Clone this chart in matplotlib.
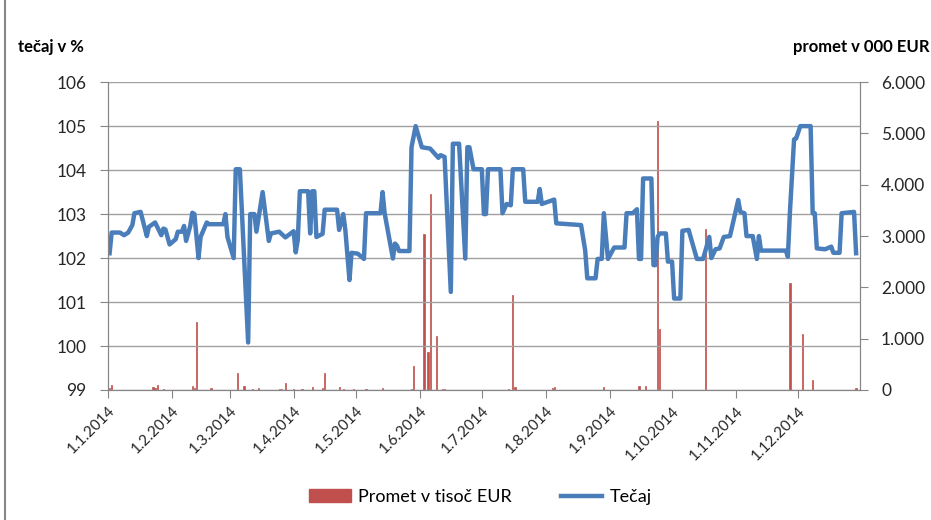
import numpy as np
import pandas as pd
import matplotlib
matplotlib.use('Agg')
import matplotlib.pyplot as plt
import matplotlib.dates as mdates
from matplotlib.ticker import FuncFormatter
from matplotlib.lines import Line2D
from matplotlib.patches import Patch

plt.rcParams['font.family'] = ['Lato', 'DejaVu Sans']

# Tečaj (v %) po dnevih
tecaj_dni = ['01-02', '01-03', '01-07', '01-09', '01-11', '01-13', '01-14', '01-17', '01-20', '01-21',
             '01-24', '01-27', '01-28', '01-29', '01-31', '02-03', '02-04', '02-06', '02-07', '02-08',
             '02-10', '02-11', '02-12', '02-14', '02-15', '02-18', '02-19', '02-26', '02-27', '02-28',
             '03-03', '03-04', '03-06', '03-10', '03-11', '03-13', '03-14', '03-17', '03-20', '03-21',
             '03-25', '03-28', '04-01', '04-02', '04-03', '04-04', '04-08', '04-09', '04-10', '04-11',
             '04-12', '04-15', '04-16', '04-22', '04-23', '04-25', '04-26', '04-28', '04-29', '05-02',
             '05-05', '05-06', '05-13', '05-14', '05-15', '05-19', '05-20', '05-21', '05-22', '05-27',
             '05-28', '05-30', '06-02', '06-06', '06-10', '06-11', '06-13', '06-16', '06-17', '06-20',
             '06-23', '06-24', '06-25', '06-27', '07-01', '07-02', '07-03', '07-04', '07-10', '07-11',
             '07-13', '07-15', '07-16', '07-21', '07-22', '07-28', '07-29', '07-30', '08-05', '08-06',
             '08-18', '08-20', '08-21', '08-25', '08-26', '08-28', '08-29', '08-31', '09-03', '09-08',
             '09-09', '09-12', '09-14', '09-15', '09-16', '09-17', '09-21', '09-22', '09-23', '09-24',
             '09-25', '09-28', '09-29', '10-01', '10-02', '10-05', '10-06', '10-09', '10-13', '10-16',
             '10-19', '10-20', '10-22', '10-24', '10-26', '10-29', '11-02', '11-03', '11-05', '11-06',
             '11-09', '11-11', '11-12', '11-13', '11-25', '11-26', '11-27', '11-29', '11-30', '12-02',
             '12-07', '12-08', '12-09', '12-10', '12-14', '12-17', '12-18', '12-21', '12-22', '12-28',
             '12-29']
tecaj = [102.11, 102.58, 102.58, 102.52, 102.58, 102.75, 103.02, 103.05, 102.50, 102.71,
         102.81, 102.52, 102.67, 102.65, 102.31, 102.43, 102.60, 102.60, 102.73, 102.39,
         102.73, 103.03, 103.00, 102.00, 102.48, 102.81, 102.77, 102.77, 103.00, 102.48,
         102.00, 104.02, 104.02, 100.08, 103.00, 103.00, 102.60, 103.50, 102.39, 102.56,
         102.60, 102.47, 102.61, 102.13, 102.41, 103.52, 103.52, 102.56, 103.52, 103.52,
         102.48, 102.55, 103.10, 103.10, 102.64, 103.00, 102.64, 101.50, 102.12, 102.10,
         101.98, 103.02, 103.02, 103.50, 103.02, 101.99, 102.33, 102.28, 102.16, 102.16,
         104.52, 105.00, 104.52, 104.49, 104.28, 104.34, 104.30, 101.23, 104.60, 104.60,
         101.99, 104.52, 104.52, 104.02, 104.02, 103.00, 103.00, 104.02, 104.02, 103.02,
         103.23, 103.20, 104.02, 104.02, 103.28, 103.28, 103.57, 103.23, 103.33, 102.79,
         102.75, 102.17, 101.54, 101.54, 101.98, 101.98, 103.02, 101.98, 102.24, 102.24,
         103.02, 103.02, 103.11, 101.98, 101.98, 103.81, 103.81, 101.84, 101.84, 102.48,
         102.56, 102.56, 101.92, 101.92, 101.08, 101.08, 102.62, 102.64, 101.98, 101.98,
         102.48, 102.00, 102.20, 102.22, 102.48, 102.50, 103.32, 103.05, 103.02, 102.50,
         102.50, 101.98, 102.50, 102.17, 102.17, 102.03, 103.05, 104.70, 104.72, 105.00,
         105.00, 103.02, 103.02, 102.22, 102.20, 102.26, 102.12, 102.12, 103.02, 103.05,
         102.11]

# Promet v tisoč EUR po dnevih
promet_dni = ['01-02', '01-03', '01-23', '01-24', '01-25', '01-28', '02-11', '02-12', '02-13', '02-20',
              '03-05', '03-08', '03-12', '03-15', '03-25', '03-26', '03-28', '04-01', '04-05', '04-10',
              '04-15', '04-16', '04-23', '04-25', '04-30', '05-06', '05-14', '05-28', '05-29', '06-03',
              '06-05', '06-06', '06-09', '06-12', '06-13', '07-14', '07-16', '07-17', '08-04', '08-05',
              '08-29', '09-15', '09-18', '09-24', '09-25', '10-17', '11-27', '12-03', '12-08', '12-29']
promet = [40, 95, 50, 40, 100, 20, 75, 30, 1320, 40,
          330, 80, 20, 35, 20, 25, 140, 20, 20, 50,
          40, 330, 55, 20, 20, 20, 45, 20, 470, 3040,
          734, 3812, 1050, 25, 15, 20, 1850, 60, 30, 60,
          50, 70, 70, 5240, 1180, 3130, 2090, 1100, 195, 40]

x_tecaj = pd.to_datetime(['2014-' + d for d in tecaj_dni])
x_promet = pd.to_datetime(['2014-' + d for d in promet_dni])
meseci = pd.date_range('2014-01-01', '2014-12-01', freq='MS')

rdeca = '#C0504D'
modra = '#4A7EBB'
siva = '#868686'
fig = plt.figure(figsize=(9.31, 5.2), dpi=100)
ax = fig.add_axes([0.1155, 0.25, 0.8085, 0.592])
ax2 = ax.twinx()
ax.set_zorder(ax2.get_zorder() + 1)
ax.patch.set_visible(False)

ax2.bar(x_promet, promet, width=0.6, color=rdeca, edgecolor=rdeca, linewidth=0.5)
ax.plot(x_tecaj, tecaj, color=modra, lw=3.2, solid_joinstyle='round')

ax.set_xlim(pd.Timestamp('2014-01-01'), pd.Timestamp('2014-12-31'))
ax.set_ylim(99, 106)
ax2.set_ylim(0, 6000)
ax.set_yticks(range(99, 107))
ax2.set_yticks(range(0, 6001, 1000))
ax2.yaxis.set_major_formatter(FuncFormatter(lambda v, p: f'{v:,.0f}'.replace(',', '.')))
ax.yaxis.grid(True, color='#a0a0a0', lw=1)
ax.set_axisbelow(True)

ax.set_xticks(meseci)
ax.set_xticklabels([f'{d.day}.{d.month}.{d.year}' for d in meseci],
                   rotation=45, ha='right', rotation_mode='anchor')

for a in (ax, ax2):
    for s in a.spines.values():
        s.set_color(siva)
    a.spines['top'].set_visible(False)
    a.tick_params(color=siva, length=6, labelsize=12.5, colors='#262626', pad=9)
ax.tick_params(axis='x', labelsize=11, pad=4)

fig.text(18 / 931, 1 - 47 / 520, 'tečaj v %', fontsize=12, fontweight='bold', va='center')
fig.text(793 / 931, 1 - 47 / 520, 'promet v 000 EUR', fontsize=12, fontweight='bold', va='center')

ročaji = [Patch(color=rdeca), Line2D([], [], color=modra, lw=3.2)]
fig.legend(ročaji, ['Promet v tisoč EUR', 'Tečaj'], loc='center', bbox_to_anchor=(0.516, 1 - 497 / 520),
           ncol=2, frameon=False, fontsize=13, handlelength=2.3, columnspacing=2.7, handletextpad=0.4)

fig.add_artist(Line2D([4.5 / 931, 4.5 / 931], [0, 1], color=siva, lw=1.5))

fig.savefig('out.png', dpi=100)
